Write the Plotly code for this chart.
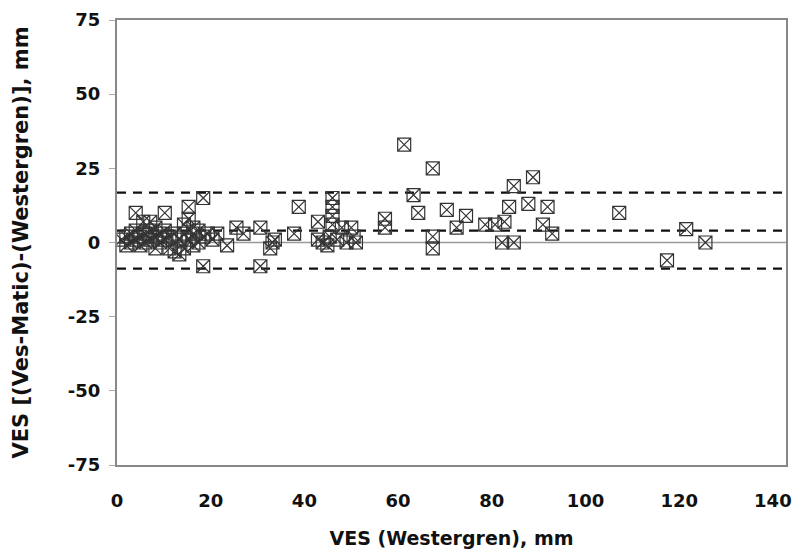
import plotly.graph_objects as go

# Data: x = VES (Westergren), y = difference (Ves-Matic - Westergren)
x_west = [1, 2, 2, 3, 3, 4, 4, 4, 5, 5, 5.6, 6.1, 6.1, 7.1, 7.1, 7.1, 8.2, 8.2, 8.2,
          9.2, 9.2, 10.2, 10.2, 10.2, 11.2, 11.2, 12.3, 12.3, 13.3, 13.3, 14.3, 14.3,
          14.3, 15.3, 15.3, 15.3, 16.3, 16.3, 16.3, 17.4, 17.4, 18.4, 18.4, 18.4,
          19.4, 20.4, 21.4, 23.5, 25.5, 27,
          30.6, 30.6, 32.7, 33.2, 33.7, 37.8, 38.8, 42.9, 42.9, 43.9, 44.9, 46, 46,
          46, 46, 45.4, 47, 48, 49, 50, 51, 50.5,
          57.2, 57.2, 61.3, 63.3, 64.3, 67.4, 67.4, 67.4, 70.4, 72.5, 74.5, 78.6,
          80.7, 82.2, 82.7, 83.7, 84.7, 84.7, 87.8, 88.8, 90.9, 91.9, 92.9,
          107.2, 117.4, 121.5, 125.6]
y_diff = [1, -1, 2, 0, 3, 10, 1, 4, 2, -1, 7, 3, 0, 7, 4, 1, 2, 5, -2, 3, 0,
          10, 4, 1, -2, 2, -3, 3, -4, 1, 6, -2, 3, 12, 8, 1, 5, -1, 3,
          4, 0, 15, -8, 2, 3, 1, 3, -1, 5, 3,
          5, -8, -2, 0, 1, 3, 12, 7, 1, 0, -1, 15, 12, 9, 6, 2, 1,
          5, 0, 5, 0, 2,
          8, 5, 33, 16, 10, 25, 2, -2, 11, 5, 9, 6, 6, 0, 7, 12, 19,
          0, 13, 22, 6, 12, 3, 10, -6, 4.5, 0]

mean_diff = 4.0
upper_limit = 16.8
lower_limit = -8.8

x_range = [0, 142.8]
x_ticks = [0, 20, 40, 60, 80, 100, 120, 140]
y_ticks = [-75, -50, -25, 0, 25, 50, 75]

fig = go.Figure()

# zero line (grey solid)
fig.add_trace(go.Scatter(x=x_range, y=[0, 0], mode="lines",
                         line=dict(color="#999999", width=1.3),
                         hoverinfo="skip", showlegend=False))
# mean and limits (black dashed)
for val in [upper_limit, mean_diff, lower_limit]:
    fig.add_trace(go.Scatter(x=x_range, y=[val, val], mode="lines",
                             line=dict(color="#111111", width=2.2, dash="9px,7px"),
                             hoverinfo="skip", showlegend=False))

fig.add_trace(go.Scatter(
    x=x_west, y=y_diff, mode="markers",
    marker=dict(symbol="square-x-open", size=13, color="#333333",
                line=dict(width=1.2, color="#333333")),
    showlegend=False))

tick_font = dict(family="DejaVu Sans, Arial, sans-serif", size=18, color="#111111")
xtitle_font = dict(family="DejaVu Sans, Arial, sans-serif", size=19, color="#111111")
ytitle_font = dict(family="DejaVu Sans, Arial, sans-serif", size=21, color="#111111")

fig.update_layout(
    width=810, height=558,
    margin=dict(l=109, r=32, t=12, b=101),
    paper_bgcolor="white", plot_bgcolor="white",
    font=tick_font,
    xaxis=dict(range=x_range, tickvals=x_ticks, ticktext=[f"<b>{t}</b>" for t in x_ticks],
               showgrid=False, zeroline=False, showline=True, linecolor="#888888",
               linewidth=2, mirror=True, ticks="", ticklen=0, automargin=False,
               ticklabelstandoff=18, tickfont=tick_font, ticklabeloverflow="allow",
               title=dict(text="<b>VES (Westergren), mm</b>", standoff=22,
                          font=xtitle_font)),
    yaxis=dict(range=[-75, 75], tickvals=y_ticks, ticktext=[f"<b>{t}</b>" for t in y_ticks],
               showgrid=False, zeroline=False, showline=True, linecolor="#888888",
               linewidth=2, mirror=True, ticks="outside", ticklen=6, tickcolor="#aaaaaa",
               automargin=False, ticklabelstandoff=5, tickfont=tick_font,
               ticklabeloverflow="allow",
               title=dict(text="<b>VES [(Ves-Matic)-(Westergren)], mm</b>", standoff=34,
                          font=ytitle_font)),
)

fig.write_html("out.html")
